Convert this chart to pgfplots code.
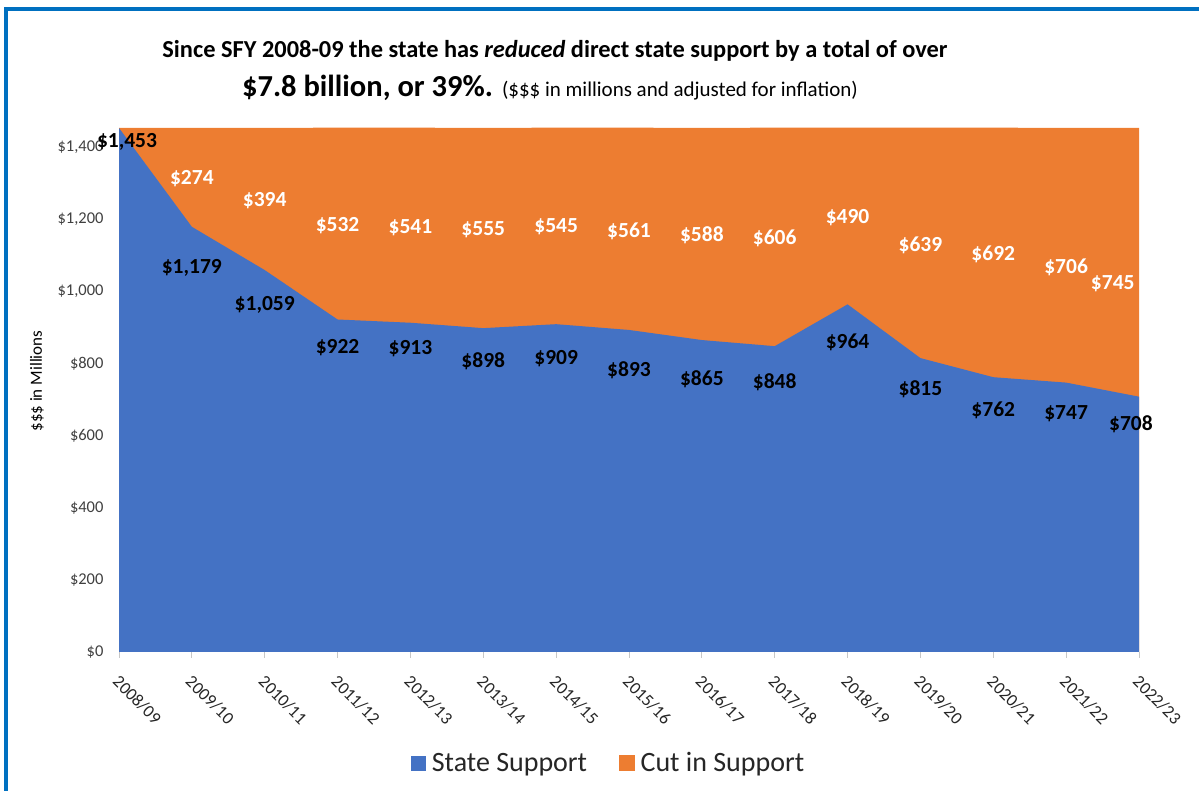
\documentclass[border=0pt]{standalone}
\usepackage{pgfplots}
\usepackage{pgfplotstable}
\pgfplotsset{compat=1.18}
\usepackage{fontspec}
\setmainfont{Carlito}
\definecolor{sblue}{HTML}{4472C4}
\definecolor{sorange}{HTML}{ED7D31}
\definecolor{framec}{HTML}{0070C0}
\definecolor{tickgray}{HTML}{404040}

% x: year index, s: state support, c: cut in support
\pgfplotstableread{
x s c
0 1453 0
1 1179 274
2 1059 394
3 922 532
4 913 541
5 898 555
6 909 545
7 893 561
8 865 588
9 848 606
10 964 490
11 815 639
12 762 692
13 747 706
14 708 745
}\datatable

% label positions (lx, ly) and shown value v
\pgfplotstableread{
lx ly v
0.11 1415 1453
1 1066 1179
2 962 1059
3 844 922
4 840 913
5 806 898
6 813 909
7 780 893
8 757 865
9 748 848
10 858 964
11 728 815
12 669 762
13 662 747
13.89 632 708
}\statelabels

\pgfplotstableread{
lx ly v
1 1312 274
2 1252 394
3 1181 532
4 1178 541
5 1171 555
6 1178 545
7 1167 561
8 1155 588
9 1147 606
10 1205 490
11 1129 639
12 1104 692
13 1067 706
13.64 1020 745
}\cutlabels

\begin{document}
\begin{tikzpicture}[x=1pt,y=1pt]
\useasboundingbox (0,0) rectangle (1199,791);
\draw[framec, line width=4pt] (6,0) -- (6,781.5) -- (1199,781.5);

\node[font=\bfseries\fontsize{24.4}{24.4}\selectfont] at (555,740) {Since SFY 2008-09 the state has \textit{reduced} direct state support by a total of over};
\node at (550,703) {\fontsize{30.5}{30.5}\selectfont\bfseries \$7.8 billion, or 39\%. \fontsize{21}{21}\mdseries\selectfont(\$\$\$ in millions and adjusted for inflation)};

\begin{axis}[
  at={(119pt,139pt)}, anchor=south west,
  scale only axis, width=1020pt, height=524pt,
  xmin=0, xmax=14, ymin=0, ymax=1453,
  axis x line*=bottom, axis y line*=left,
  x axis line style={draw=black!18, line width=1pt},
  y axis line style={draw=none},
  ytick={0,200,...,1400},
  ytick style={draw=none},
  xtick={0,...,14},
  xticklabels={2008/09,2009/10,2010/11,2011/12,2012/13,2013/14,2014/15,2015/16,2016/17,2017/18,2018/19,2019/20,2020/21,2021/22,2022/23},
  x tick style={draw=black!22, line width=1pt},
  tick align=outside, major tick length=6pt,
  /pgf/number format/assume math mode=true,
  yticklabel={\$\pgfmathprintnumber[fixed,1000 sep={,}]{\tick}},
  yticklabel style={font=\fontsize{16.5}{16.5}\selectfont, text=tickgray, xshift=-6pt},
  xticklabel style={font=\fontsize{17.5}{17.5}\selectfont, text=black!85, rotate=-45, anchor=north west, xshift=9pt, yshift=-7pt},
  ylabel={\$\$\$ in Millions},
  every axis y label/.style={at={(axis description cs:-0.0804,0.517)}, anchor=center, rotate=90, font=\fontsize{17}{17}\selectfont, text=black},
  legend style={at={(axis description cs:0.48,-0.212)}, anchor=center, draw=none, fill=none,
    font=\fontsize{28}{28}\selectfont, text=black!85,
    /tikz/every odd column/.append style={column sep=4pt},
    /tikz/every even column/.append style={column sep=30pt}},
  legend columns=2,
  legend cell align=left,
  clip=false,
]
\addplot[fill=sorange, draw=none, forget plot] table[x=x, y expr=\thisrow{s}+\thisrow{c}] {\datatable} \closedcycle;
\addplot[fill=sblue, draw=none, legend image code/.code={\fill[sblue] (0pt,-7.5pt) rectangle (15pt,7.5pt);}] table[x=x, y=s] {\datatable} \closedcycle;
\addlegendentry{State Support}
\addlegendimage{legend image code/.code={\fill[sorange] (0pt,-7.5pt) rectangle (15pt,7.5pt);}}
\addlegendentry{Cut in Support}

\addplot[draw=none, mark=none, forget plot, point meta=explicit,
  nodes near coords={\$\pgfmathprintnumber[fixed,1000 sep={,}]{\pgfplotspointmeta}},
  nodes near coords style={anchor=center, font=\bfseries\fontsize{21.5}{21.5}\selectfont, text=black, inner sep=0pt}]
  table[x=lx, y=ly, meta=v] {\statelabels};
\addplot[draw=none, mark=none, forget plot, point meta=explicit,
  nodes near coords={\$\pgfmathprintnumber[fixed,1000 sep={,}]{\pgfplotspointmeta}},
  nodes near coords style={anchor=center, font=\bfseries\fontsize{21.5}{21.5}\selectfont, text=white, inner sep=0pt}]
  table[x=lx, y=ly, meta=v] {\cutlabels};
\end{axis}
\end{tikzpicture}
\end{document}
